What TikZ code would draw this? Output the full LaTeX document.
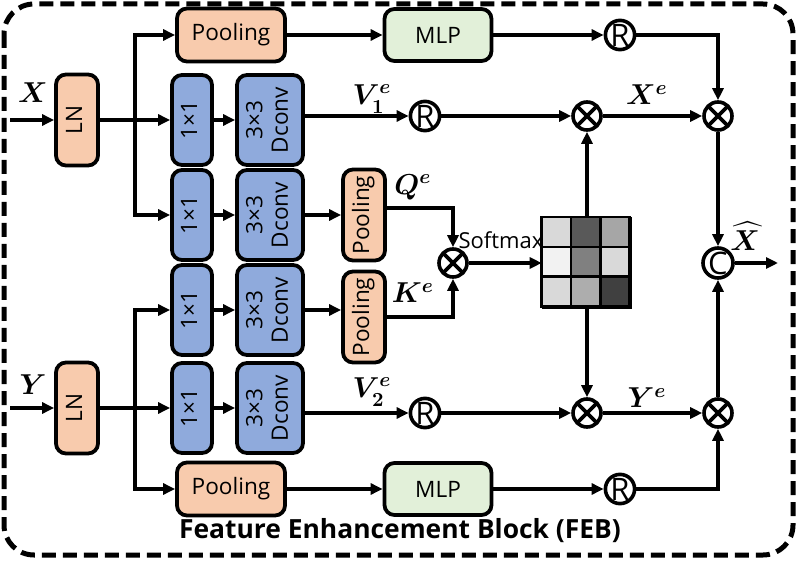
\documentclass[tikz,border=0pt]{standalone}
\usepackage{fontspec}
\setmainfont{Open Sans}
\usepackage{amsmath}
\usepackage{graphicx}
\usetikzlibrary{arrows.meta}
\definecolor{lnclr}{HTML}{F8CBAD}
\definecolor{cvclr}{HTML}{8FAADC}
\definecolor{mlpclr}{HTML}{E2F0D9}
\newcommand{\vtxt}[1]{\rotatebox{90}{\begin{tabular}{@{}c@{}}#1\end{tabular}}}
\tikzset{
  bx/.style={draw,line width=1.9pt,rounded corners=5pt,inner sep=0pt,align=center,font=\fontsize{11.3}{12.8}\selectfont},
  nbk/.style={bx,fill=lnclr},
  cbk/.style={bx,fill=cvclr},
  gbk/.style={bx,fill=mlpclr},
  op/.style={circle,draw,line width=1.8pt,minimum size=14pt,inner sep=0pt,font=\fontsize{15.5}{15.5}\selectfont},
  mul/.style={op,path picture={\draw[line width=1.8pt] (path picture bounding box.north west) -- (path picture bounding box.south east) (path picture bounding box.north east) -- (path picture bounding box.south west);}},
  arr/.style={-{Triangle[length=6pt,width=5.5pt]},line width=1.7pt},
  lbl/.style={font=\fontsize{14.5}{16}\selectfont,inner sep=1pt},
}

\begin{document}
\begin{tikzpicture}[x=0.5pt,y=-0.5pt]
  \useasboundingbox (0,0) rectangle (797,566);
  \draw[line width=2.5pt,dash pattern=on 7pt off 3.5pt,rounded corners=15pt] (4,4) rectangle (793,555);

  \coordinate (xin) at (10,120);
  \coordinate (yin) at (10,408);
  \coordinate (sx) at (135,120);
  \coordinate (sy) at (135,408);
  \coordinate (xout) at (778,263);

  \node[nbk,minimum width=21pt,minimum height=45.5pt] (lnx) at (77,120) {\vtxt{LN}};
  \node[nbk,minimum width=21pt,minimum height=45.5pt] (lny) at (77,408) {\vtxt{LN}};

  \node[nbk,minimum width=54pt,minimum height=26.5pt] (p1) at (231,35) {Pooling};
  \node[gbk,minimum width=53.5pt,minimum height=26pt] (mlp1) at (438,35) {MLP};
  \node[op] (r1) at (620,35) {R};

  \node[cbk,minimum width=20pt,minimum height=45pt] (c1) at (192,120) {\vtxt{1×1}};
  \node[cbk,minimum width=33pt,minimum height=45pt] (d1) at (270,120) {\vtxt{3×3\\Dconv}};
  \node[op] (rv1) at (425,116) {R};

  \node[cbk,minimum width=20pt,minimum height=45pt] (c2) at (192,215) {\vtxt{1×1}};
  \node[cbk,minimum width=33pt,minimum height=45pt] (d2) at (270,215) {\vtxt{3×3\\Dconv}};
  \node[nbk,minimum width=21pt,minimum height=45.5pt] (pq) at (364,215) {\vtxt{Pooling}};

  \node[cbk,minimum width=20pt,minimum height=45pt] (c3) at (192,310) {\vtxt{1×1}};
  \node[cbk,minimum width=33pt,minimum height=45pt] (d3) at (270,310) {\vtxt{3×3\\Dconv}};
  \node[nbk,minimum width=21pt,minimum height=45.5pt] (pk) at (364,317) {\vtxt{Pooling}};

  \node[cbk,minimum width=20pt,minimum height=45pt] (c4) at (192,408) {\vtxt{1×1}};
  \node[cbk,minimum width=33pt,minimum height=45pt] (d4) at (270,408) {\vtxt{3×3\\Dconv}};
  \node[op] (rv2) at (425,413) {R};

  \node[nbk,minimum width=54pt,minimum height=26.5pt] (p2) at (231,489) {Pooling};
  \node[gbk,minimum width=53.5pt,minimum height=26pt] (mlp2) at (438,489) {MLP};
  \node[op] (r2) at (620,489) {R};

  \node[mul] (sm) at (453,263) {};
  \node[mul] (m1) at (587,116) {};
  \node[mul] (m2) at (718,116) {};
  \node[mul] (m3) at (587,413) {};
  \node[mul] (m4) at (718,413) {};
  \node[op] (cc) at (718,263) {C};

  \node[draw,line width=1.3pt,minimum width=44pt,minimum height=44.5pt,inner sep=0pt] (att) at (587,263) {};
  \foreach \g [count=\k from 0] in {15,65,35,5,50,15,15,32,75}{
    \pgfmathtruncatemacro\cl{mod(\k,3)}
    \pgfmathtruncatemacro\rw{\k/3}
    \draw[line width=1.3pt,fill=black!\g] ([shift={(\cl*29.33,\rw*29.67)}]att.north west) rectangle +(29.33,29.67);
  }

  \node[lbl] (lx) at (33,93) {$\boldsymbol{X}$};
  \node[lbl] (ly) at (33,385) {$\boldsymbol{Y}$};
  \node[lbl] (lv1) at (372,99) {$\boldsymbol{V^e_1}$};
  \node[lbl] (lv2) at (372,392) {$\boldsymbol{V^e_2}$};
  \node[lbl] (lq) at (413,187) {$\boldsymbol{Q^e}$};
  \node[lbl] (lk) at (413,293) {$\boldsymbol{K^e}$};
  \node[lbl] (lxe) at (647,95) {$\boldsymbol{X^e}$};
  \node[lbl] (lye) at (647,398) {$\boldsymbol{Y^e}$};
  \node[lbl] (lxh) at (745,236) {$\boldsymbol{\widehat{X}}$};
  \node[font=\fontsize{11}{12}\selectfont,inner sep=0pt] (lsm) at (501,240) {Softmax};
  \node[font=\bfseries\fontsize{13.2}{15}\selectfont] (ttl) at (400,531) {Feature Enhancement Block (FEB)};

  \draw[arr] (xin) -- (lnx);
  \draw[arr] (lnx) -- (c1);
  \draw[arr] (sx) |- (p1);
  \draw[arr] (sx) |- (c2);
  \draw[arr] (c1) -- (d1);
  \draw[arr] (c2) -- (d2);
  \draw[arr] (d2) -- (pq);
  \draw[arr] (p1) -- (mlp1);
  \draw[arr] (mlp1) -- (r1);
  \draw[arr] (r1) -| (m2);
  \draw[arr] (d1.east |- rv1) -- (rv1);
  \draw[arr] (rv1) -- (m1);
  \draw[arr] (m1) -- (m2);
  \draw[arr] (att) -- (m1);
  \draw[arr] ([yshift=3.5pt]pq.east) -| (sm);
  \draw[arr] (pk) -| (sm);
  \draw[arr] (sm) -- (att);
  \draw[arr] (att) -- (m3);
  \draw[arr] (m2) -- (cc);
  \draw[arr] (m4) -- (cc);
  \draw[arr] (cc) -- (xout);

  \draw[arr] (yin) -- (lny);
  \draw[arr] (lny) -- (c4);
  \draw[arr] (sy) |- (c3);
  \draw[arr] (sy) |- (p2);
  \draw[arr] (c3) -- (d3);
  \draw[arr] (c4) -- (d4);
  \draw[arr] (d3.east) -- (d3.east -| pk.west);
  \draw[arr] (d4.east |- rv2) -- (rv2);
  \draw[arr] (rv2) -- (m3);
  \draw[arr] (m3) -- (m4);
  \draw[arr] (p2) -- (mlp2);
  \draw[arr] (mlp2) -- (r2);
  \draw[arr] (r2) -| (m4);
\end{tikzpicture}
\end{document}
